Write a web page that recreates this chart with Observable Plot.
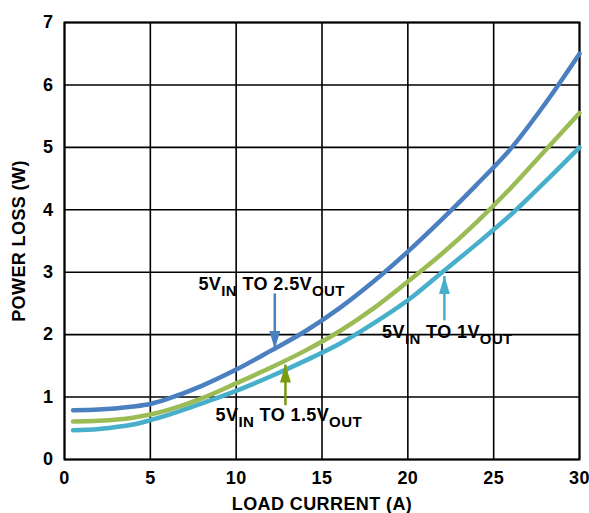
<!DOCTYPE html>
<html><head><meta charset="utf-8">
<script src="https://cdn.jsdelivr.net/npm/d3@7"></script>
<script src="https://cdn.jsdelivr.net/npm/@observablehq/plot@0.6"></script>
<style>body{margin:0;background:#fff} #chart svg text{letter-spacing:0.4px}</style>
</head><body><div id="chart"></div>
<script>
const loadCurrent = [0.5, 2, 4, 5, 6, 8, 10, 12, 14, 16, 18, 20, 22, 24, 26, 28, 30];
const loss2V5 = [0.79, 0.80, 0.85, 0.89, 0.97, 1.18, 1.44, 1.74, 2.05, 2.42, 2.85, 3.33, 3.85, 4.40, 4.98, 5.70, 6.50];
const loss1V5 = [0.61, 0.62, 0.67, 0.72, 0.79, 0.98, 1.22, 1.47, 1.74, 2.05, 2.42, 2.85, 3.30, 3.80, 4.35, 4.95, 5.55];
const loss1V  = [0.47, 0.49, 0.56, 0.63, 0.71, 0.90, 1.10, 1.33, 1.58, 1.85, 2.18, 2.55, 3.00, 3.45, 3.92, 4.45, 5.00];
const seriesNames = ["1V", "1.5V", "2.5V"];
const seriesColors = ["#48afcb", "#9bbb55", "#4a7fc0"];
const xTicks = [0, 5, 10, 15, 20, 25, 30];
const yTicks = [0, 1, 2, 3, 4, 5, 6, 7];

const labelX = [7.8, 8.8, 18.5];
const labelY = [2.81, 0.71, 2.04];
const labelParts = [
  [["5V", 0], ["IN", 1], [" TO 2.5V", 0], ["OUT", 1]],
  [["5V", 0], ["IN", 1], [" TO 1.5V", 0], ["OUT", 1]],
  [["5V", 0], ["IN", 1], [" TO 1V", 0], ["OUT", 1]]
];
const arrowX = [12.25, 12.87, 22.13];
const arrowFrom = [2.66, 0.87, 2.23];
const arrowTo = [1.77, 1.52, 2.94];
const arrowColors = ["#4a7fc0", "#779a0e", "#48afcb"];

const rows = [];
[loss1V, loss1V5, loss2V5].forEach((arr, s) =>
  arr.forEach((v, i) => rows.push({s: seriesNames[s], x: loadCurrent[i], y: v})));
const labels = labelParts.map((p, i) => ({x: labelX[i], y: labelY[i], t: p.map(d => d[0]).join(""), parts: p}));
const arrows = arrowX.map((x, i) => ({x, y1: arrowFrom[i], y2: arrowTo[i], c: arrowColors[i]}));

const head = (color) => {
  const m = d3.create("svg:marker")
    .attr("viewBox", "0 -5.5 18 11")
    .attr("markerWidth", 18).attr("markerHeight", 11)
    .attr("refX", 18).attr("refY", 0)
    .attr("orient", "auto").attr("markerUnits", "userSpaceOnUse");
  m.append("path").attr("d", "M0,-5.5L18,0L0,5.5Z").attr("fill", color);
  return m.node();
};

const plot = Plot.plot({
  width: 589, height: 513,
  marginLeft: 64, marginRight: 10, marginTop: 22, marginBottom: 54,
  style: {fontFamily: "'Liberation Sans', Arial, sans-serif", fontWeight: "bold", fontSize: "18px", color: "#000", background: "#fff"},
  x: {domain: [0, 30]},
  y: {domain: [0, 7]},
  color: {domain: seriesNames, range: seriesColors},
  marks: [
    Plot.gridX(xTicks, {stroke: "#000", strokeOpacity: 1, strokeWidth: 1.6}),
    Plot.gridY(yTicks, {stroke: "#000", strokeOpacity: 1, strokeWidth: 1.6}),
    Plot.frame({stroke: "#000", strokeWidth: 2}),
    Plot.axisX(xTicks, {tickSize: 0, tickPadding: 12, fontSize: 18, fontWeight: "bold", tickFormat: d => d, label: "LOAD CURRENT (A)", labelAnchor: "center", labelOffset: 50, labelArrow: false}),
    Plot.axisY(yTicks, {tickSize: 0, tickPadding: 11, fontSize: 18, fontWeight: "bold", tickFormat: d => d, label: "POWER LOSS (W)", labelAnchor: "center", labelOffset: 52, labelArrow: false}),
    Plot.line(rows, {x: "x", y: "y", z: "s", stroke: "s", strokeWidth: 4.5, curve: "catmull-rom"}),
    Plot.link(arrows, {x1: "x", x2: "x", y1: "y1", y2: "y2", stroke: "c", strokeWidth: 2.5, markerEnd: head}),
    Plot.text(labels, {x: "x", y: "y", text: "t", textAnchor: "start", fontSize: 18, fontWeight: "bold", fill: "#000"})
  ]
});

d3.select(plot).selectAll('g[aria-label="text"] text').each(function(_, i) {
  const el = d3.select(this);
  el.text(null);
  let prev = 0;
  labels[i].parts.forEach(([txt, sub]) => {
    const dy = sub === prev ? 0 : (sub ? 6 : -6);
    el.append("tspan").attr("dy", dy).attr("font-size", sub ? 15 : 18).text(txt);
    prev = sub;
  });
});

document.getElementById("chart").appendChild(plot);
</script>
</body></html>
